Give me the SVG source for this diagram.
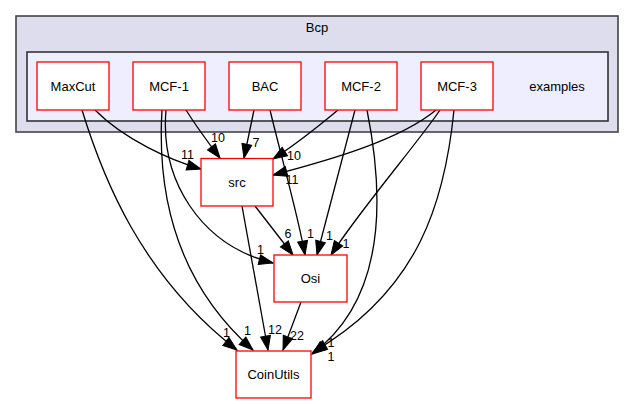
<svg xmlns="http://www.w3.org/2000/svg" width="635" height="404" viewBox="0 0 635 404">
<style>
text{font-family:"Liberation Sans",Arial,sans-serif;fill:#000}
.n{font-size:13px;text-anchor:middle}
.l{font-size:12.5px;text-anchor:middle}
.box{fill:#fff;stroke:#ff0000;stroke-width:1.3}
.e{fill:none;stroke:#000;stroke-width:1.3;marker-end:url(#ah)}
</style>
<defs>
<marker id="ah" markerUnits="userSpaceOnUse" markerWidth="15" markerHeight="11" refX="14" refY="5" orient="auto" overflow="visible">
<path d="M0,0 L14,5 L0,10 z" fill="#000" stroke="#000" stroke-width="1"/>
</marker>
</defs>
<rect width="635" height="404" fill="#fff"/>
<g id="cluster-bcp">
<rect x="16" y="16" width="602" height="116" fill="#ddddee" stroke="#444" stroke-width="1.6"/>
<text class="n" x="317" y="31.7">Bcp</text>
</g>
<g id="cluster-examples">
<rect x="27" y="52" width="581" height="69" fill="#eeeeff" stroke="#333" stroke-width="1.6"/>
<text class="n" x="557" y="90.5">examples</text>
</g>
<g id="edges">
<path class="e" d="M95,110 C125,140 170,160 201,169"/>
<path class="e" d="M82,110 C102,175 140,275 237,350"/>
<path class="e" d="M186,110 C196,126 207,141 220,158"/>
<path class="e" d="M166,110 C160,180 200,245 273,263"/>
<path class="e" d="M162,110 C156,210 185,290 253,350"/>
<path class="e" d="M254,110 L244,158"/>
<path class="e" d="M270,110 C282,160 298,215 305,255"/>
<path class="e" d="M338,110 C320,125 295,145 273,159"/>
<path class="e" d="M355,110 L317,255"/>
<path class="e" d="M367,110 C385,200 385,300 312,354"/>
<path class="e" d="M436,110 C400,140 330,160 273,175"/>
<path class="e" d="M440,110 C420,140 360,210 331,255"/>
<path class="e" d="M454,110 C445,200 420,290 313,352"/>
<path class="e" d="M255,206 L293,255"/>
<path class="e" d="M242,206 L268,350"/>
<path class="e" d="M301,302 L283,350"/>
<text class="l" x="187.5" y="158.5">11</text>
<text class="l" x="218" y="141.7">10</text>
<text class="l" x="256" y="146.5">7</text>
<text class="l" x="294" y="159.5">10</text>
<text class="l" x="292" y="183.5">11</text>
<text class="l" x="288" y="237.5">6</text>
<text class="l" x="310.5" y="237.5">1</text>
<text class="l" x="329.5" y="240">1</text>
<text class="l" x="346" y="247.5">1</text>
<text class="l" x="260.5" y="254">1</text>
<text class="l" x="226.5" y="336.5">1</text>
<text class="l" x="247.5" y="335">1</text>
<text class="l" x="275" y="334">12</text>
<text class="l" x="297" y="340">22</text>
<text class="l" x="331" y="346.5">1</text>
<text class="l" x="331" y="361">1</text>
</g>
<g id="node-maxcut"><rect class="box" x="37" y="62" width="72" height="48"/><text class="n" x="73" y="90.5">MaxCut</text></g>
<g id="node-mcf1"><rect class="box" x="133" y="62" width="72" height="48"/><text class="n" x="169" y="90.5">MCF-1</text></g>
<g id="node-bac"><rect class="box" x="229" y="62" width="72" height="48"/><text class="n" x="265" y="90.5">BAC</text></g>
<g id="node-mcf2"><rect class="box" x="325" y="62" width="72" height="48"/><text class="n" x="361" y="90.5">MCF-2</text></g>
<g id="node-mcf3"><rect class="box" x="421" y="62" width="72" height="48"/><text class="n" x="457" y="90.5">MCF-3</text></g>
<g id="node-src"><rect class="box" x="201" y="158.5" width="72" height="47.5"/><text class="n" x="237" y="187">src</text></g>
<g id="node-osi"><rect class="box" x="274" y="255" width="73" height="47"/><text class="n" x="310.5" y="283">Osi</text></g>
<g id="node-coinutils"><rect class="box" x="236" y="351" width="75" height="47"/><text class="n" x="273.5" y="379">CoinUtils</text></g>
</svg>
